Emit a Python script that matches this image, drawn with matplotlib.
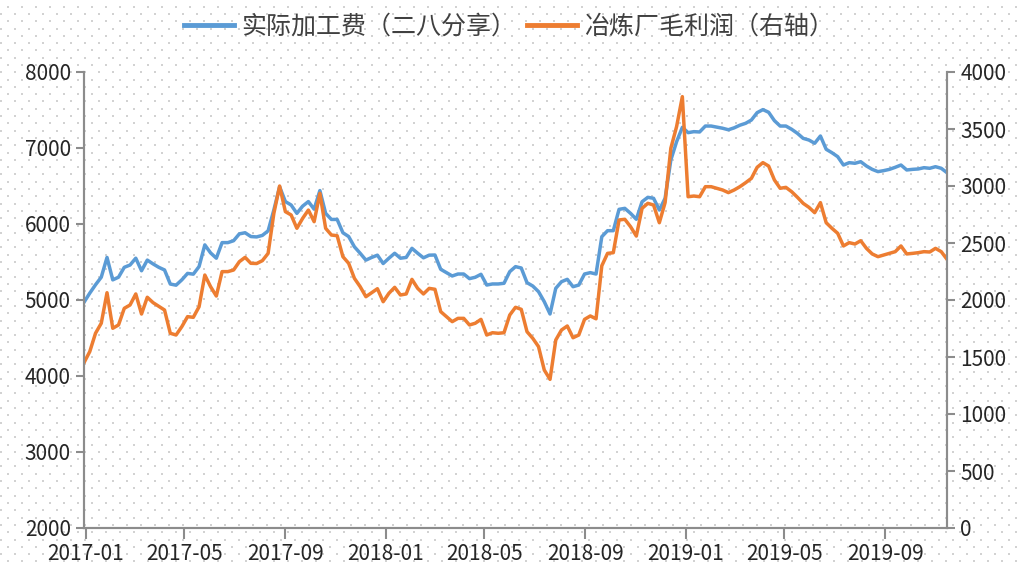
import numpy as np
import pandas as pd
import matplotlib
matplotlib.use('Agg')
import matplotlib.pyplot as plt
import matplotlib.dates as mdates

plt.rcParams['font.family'] = ['Noto Sans CJK SC', 'DejaVu Sans']

# weekly data, 2016-12-30 .. 2019-11-15
dates = pd.date_range('2016-12-30', periods=151, freq='7D')

# 实际加工费（二八分享） - left axis
tc = [4970, 5090, 5200, 5300, 5560, 5265, 5300, 5430, 5460, 5550,
      5385, 5525, 5475, 5430, 5395, 5210, 5195, 5265, 5350, 5340,
      5440, 5725, 5620, 5550, 5755, 5755, 5780, 5870, 5885, 5835,
      5830, 5850, 5910, 6185, 6490, 6295, 6250, 6140, 6235, 6295,
      6195, 6440, 6140, 6060, 6060, 5885, 5835, 5700, 5615, 5525,
      5560, 5590, 5480, 5550, 5615, 5550, 5560, 5680, 5615, 5555,
      5590, 5592, 5404, 5360, 5316, 5342, 5342, 5281, 5299, 5338,
      5197, 5211, 5211, 5220, 5373, 5439, 5421, 5228, 5184, 5110,
      4978, 4816, 5154, 5241, 5272, 5175, 5197, 5342, 5360, 5342,
      5833, 5912, 5912, 6193, 6206, 6140, 6062, 6293, 6351, 6338,
      6184, 6338, 6842, 7083, 7272, 7202, 7215, 7211, 7289, 7289,
      7275, 7260, 7240, 7265, 7300, 7325, 7368, 7465, 7505, 7470,
      7360, 7289, 7289, 7246, 7193, 7127, 7105, 7062, 7158, 6983,
      6938, 6886, 6776, 6807, 6799, 6820, 6763, 6719, 6689, 6702,
      6719, 6746, 6776, 6711, 6719, 6724, 6741, 6733, 6754, 6733,
      6675]

# 冶炼厂毛利润（右轴） - right axis
profit = [1450, 1547, 1708, 1796, 2064, 1752, 1781, 1927, 1956, 2053,
          1877, 2024, 1977, 1945, 1912, 1708, 1693, 1766, 1854, 1848,
          1941, 2219, 2117, 2035, 2249, 2249, 2263, 2336, 2374, 2322,
          2320, 2345, 2409, 2760, 3000, 2775, 2746, 2629, 2716, 2789,
          2687, 2936, 2629, 2570, 2564, 2380, 2322, 2190, 2117, 2029,
          2064, 2099, 1985, 2059, 2111, 2044, 2053, 2181, 2102, 2053,
          2102, 2094, 1898, 1854, 1810, 1839, 1839, 1781, 1796, 1830,
          1693, 1713, 1708, 1713, 1868, 1936, 1918, 1722, 1664, 1591,
          1386, 1304, 1649, 1737, 1772, 1669, 1693, 1830, 1860, 1835,
          2300, 2409, 2415, 2702, 2708, 2643, 2561, 2804, 2848, 2833,
          2678, 2854, 3331, 3521, 3784, 2906, 2912, 2906, 2994, 2994,
          2980, 2965, 2942, 2965, 2994, 3029, 3067, 3164, 3205, 3175,
          3053, 2980, 2988, 2950, 2901, 2848, 2813, 2766, 2854, 2678,
          2629, 2585, 2474, 2503, 2491, 2520, 2453, 2404, 2380, 2395,
          2409, 2424, 2474, 2404, 2409, 2415, 2424, 2421, 2453, 2424,
          2357]

blue = '#5B9BD5'
orange = '#ED7D31'
grey = '#8c8c8c'
txt = '#262626'

fig = plt.figure(figsize=(10.18, 5.66), dpi=100)

# dotted background pattern
bg = fig.add_axes([0, 0, 1, 1], zorder=-1)
bg.set_xlim(0, 1018)
bg.set_ylim(566, 0)
bg.axis('off')
for k, y in enumerate(np.arange(6.6, 566, 7.3)):
    xs = np.arange(0.7 if k % 2 else 7.7, 1018, 14)
    bg.scatter(xs, np.full_like(xs, y), s=2.2, marker='s', color='#d2d2d2', linewidths=0)

ax = fig.add_axes([84 / 1018, 38 / 566, 863 / 1018, 456 / 566])
ax.patch.set_alpha(0)
ax2 = ax.twinx()

l1, = ax.plot(dates, tc, color=blue, lw=2.5, label='实际加工费（二八分享）')
l2, = ax2.plot(dates, profit, color=orange, lw=2.5, label='冶炼厂毛利润（右轴）')

ax.set_ylim(2000, 8000)
ax.set_yticks(range(2000, 8001, 1000))
ax2.set_ylim(0, 4000)
ax2.set_yticks(range(0, 4001, 500))
ax.set_xlim(dates[0], dates[-1])
ax.set_xticks(pd.date_range('2017-01-01', '2019-09-01', freq='4MS'))
ax.xaxis.set_major_formatter(mdates.DateFormatter('%Y-%m'))

for a in (ax, ax2):
    for s in a.spines.values():
        s.set_color(grey)
        s.set_linewidth(1.5)
    a.spines['top'].set_visible(False)
    a.tick_params(colors=grey, labelcolor=txt, labelsize=15, width=1.5, length=6)
ax.tick_params(axis='x', length=8, pad=3)

leg = fig.legend(handles=[l1, l2], loc='upper center', bbox_to_anchor=(0.5, 1.015),
                 ncol=2, frameon=False, fontsize=18, handlelength=2.0,
                 columnspacing=0.4, handletextpad=0.3, labelcolor='#404040')
for h in leg.get_lines():
    h.set_linewidth(3.5)

fig.savefig('out.png', dpi=100)
